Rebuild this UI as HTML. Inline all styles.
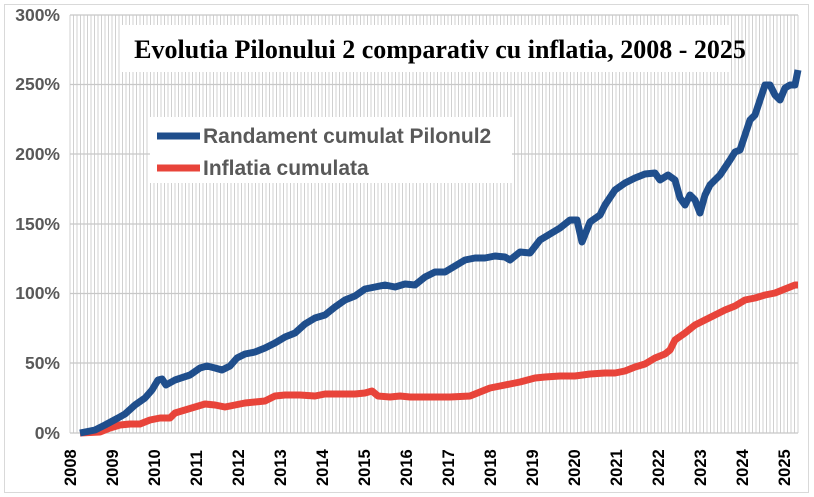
<!DOCTYPE html>
<html><head><meta charset="utf-8"><style>body{margin:0;background:#fff}svg{display:block}</style></head><body>
<svg width="814" height="497" xmlns="http://www.w3.org/2000/svg" font-family="Liberation Sans, sans-serif">
<rect x="4.5" y="4.5" width="804" height="488" fill="#fff" stroke="#d9d9d9"/>
<g stroke="#d0d0d0" stroke-width="1" fill="none">
<path d="M70 15V433M73.5 15V433M77 15V433M80.5 15V433M84 15V433M87.5 15V433M91 15V433M94.5 15V433M98 15V433M101.5 15V433M105 15V433M108.5 15V433M112 15V433M115.5 15V433M119 15V433M122.5 15V433M126 15V433M129.5 15V433M133 15V433M136.5 15V433M140 15V433M143.5 15V433M147 15V433M150.5 15V433M154 15V433M157.5 15V433M161 15V433M164.5 15V433M168 15V433M171.5 15V433M175 15V433M178.5 15V433M182 15V433M185.5 15V433M189 15V433M192.5 15V433M196 15V433M199.5 15V433M203 15V433M206.5 15V433M210 15V433M213.5 15V433M217 15V433M220.5 15V433M224 15V433M227.5 15V433M231 15V433M234.5 15V433M238 15V433M241.5 15V433M245 15V433M248.5 15V433M252 15V433M255.5 15V433M259 15V433M262.5 15V433M266 15V433M269.5 15V433M273 15V433M276.5 15V433M280 15V433M283.5 15V433M287 15V433M290.5 15V433M294 15V433M297.5 15V433M301 15V433M304.5 15V433M308 15V433M311.5 15V433M315 15V433M318.5 15V433M322 15V433M325.5 15V433M329 15V433M332.5 15V433M336 15V433M339.5 15V433M343 15V433M346.5 15V433M350 15V433M353.5 15V433M357 15V433M360.5 15V433M364 15V433M367.5 15V433M371 15V433M374.5 15V433M378 15V433M381.5 15V433M385 15V433M388.5 15V433M392 15V433M395.5 15V433M399 15V433M402.5 15V433M406 15V433M409.5 15V433M413 15V433M416.5 15V433M420 15V433M423.5 15V433M427 15V433M430.5 15V433M434 15V433M437.5 15V433M441 15V433M444.5 15V433M448 15V433M451.5 15V433M455 15V433M458.5 15V433M462 15V433M465.5 15V433M469 15V433M472.5 15V433M476 15V433M479.5 15V433M483 15V433M486.5 15V433M490 15V433M493.5 15V433M497 15V433M500.5 15V433M504 15V433M507.5 15V433M511 15V433M514.5 15V433M518 15V433M521.5 15V433M525 15V433M528.5 15V433M532 15V433M535.5 15V433M539 15V433M542.5 15V433M546 15V433M549.5 15V433M553 15V433M556.5 15V433M560 15V433M563.5 15V433M567 15V433M570.5 15V433M574 15V433M577.5 15V433M581 15V433M584.5 15V433M588 15V433M591.5 15V433M595 15V433M598.5 15V433M602 15V433M605.5 15V433M609 15V433M612.5 15V433M616 15V433M619.5 15V433M623 15V433M626.5 15V433M630 15V433M633.5 15V433M637 15V433M640.5 15V433M644 15V433M647.5 15V433M651 15V433M654.5 15V433M658 15V433M661.5 15V433M665 15V433M668.5 15V433M672 15V433M675.5 15V433M679 15V433M682.5 15V433M686 15V433M689.5 15V433M693 15V433M696.5 15V433M700 15V433M703.5 15V433M707 15V433M710.5 15V433M714 15V433M717.5 15V433M721 15V433M724.5 15V433M728 15V433M731.5 15V433M735 15V433M738.5 15V433M742 15V433M745.5 15V433M749 15V433M752.5 15V433M756 15V433M759.5 15V433M763 15V433M766.5 15V433M770 15V433M773.5 15V433M777 15V433M780.5 15V433M784 15V433M787.5 15V433M791 15V433M794.5 15V433M798 15V433"/>
</g>
<g stroke="#c8c8c8" stroke-width="1.2">
<line x1="70" x2="798" y1="15" y2="15"/><line x1="70" x2="798" y1="84.5" y2="84.5"/><line x1="70" x2="798" y1="154" y2="154"/><line x1="70" x2="798" y1="224" y2="224"/><line x1="70" x2="798" y1="293.5" y2="293.5"/><line x1="70" x2="798" y1="363" y2="363"/><line x1="70" x2="798" y1="433" y2="433"/>
</g>
<rect x="120" y="25" width="610" height="47" fill="#fff"/>
<text x="440" y="58" text-anchor="middle" font-family="Liberation Serif, serif" font-weight="bold" font-size="26">Evolutia Pilonului 2 comparativ cu inflatia, 2008 - 2025</text>
<rect x="150" y="117" width="362" height="66" fill="#fff"/>
<line x1="157" x2="200" y1="136" y2="136" stroke="#1f4e8c" stroke-width="7"/>
<text x="203" y="143" font-weight="bold" font-size="21" fill="#595959">Randament cumulat Pilonul2</text>
<line x1="157" x2="200" y1="168" y2="168" stroke="#e8443a" stroke-width="7"/>
<text x="203" y="175" font-weight="bold" font-size="21" fill="#595959">Inflatia cumulata</text>
<g font-weight="bold" font-size="17.5" fill="#595959" text-anchor="end">
<text x="60" y="21">300%</text><text x="60" y="90">250%</text><text x="60" y="160">200%</text><text x="60" y="230">150%</text><text x="60" y="299">100%</text><text x="60" y="369">50%</text><text x="60" y="439">0%</text>
</g>
<g font-weight="bold" font-size="16.5" fill="#000">
<text transform="translate(76,486) rotate(-90)">2008</text><text transform="translate(118,486) rotate(-90)">2009</text><text transform="translate(160,486) rotate(-90)">2010</text><text transform="translate(202,486) rotate(-90)">2011</text><text transform="translate(244,486) rotate(-90)">2012</text><text transform="translate(286,486) rotate(-90)">2013</text><text transform="translate(328,486) rotate(-90)">2014</text><text transform="translate(370,486) rotate(-90)">2015</text><text transform="translate(412,486) rotate(-90)">2016</text><text transform="translate(454,486) rotate(-90)">2017</text><text transform="translate(496,486) rotate(-90)">2018</text><text transform="translate(538,486) rotate(-90)">2019</text><text transform="translate(580,486) rotate(-90)">2020</text><text transform="translate(622,486) rotate(-90)">2021</text><text transform="translate(664,486) rotate(-90)">2022</text><text transform="translate(706,486) rotate(-90)">2023</text><text transform="translate(748,486) rotate(-90)">2024</text><text transform="translate(790,486) rotate(-90)">2025</text>
</g>
<polyline fill="none" stroke="#e8443a" stroke-width="7" stroke-linejoin="round" points="80,433 100,432 110,428 120,425 130,424 140,424 150,420 160,418 170,418 175,413 185,410 195,407 205,404 215,405 225,407 235,405 245,403 255,402 265,401 275,396 285,395 300,395 315,396 325,394 340,394 355,394 365,393 372,391 378,396 390,397 400,396 410,397 430,397 450,397 470,396 480,392 490,388 500,386 510,384 520,382 535,378 545,377 560,376 575,376 590,374 605,373 615,373 625,371 635,367 645,364 655,358 665,354 670,350 675,340 685,333 695,325 705,320 715,315 725,310 735,306 745,300 755,298 765,295 775,293 785,289 795,285 798,285"/>
<polyline fill="none" stroke="#1f4e8c" stroke-width="7" stroke-linejoin="round" points="80,433 95,430 105,425 118,418 125,414 135,405 145,398 152,390 158,380 162,379 166,385 175,380 190,375 200,368 207,366 215,368 222,370 230,366 237,358 245,354 255,352 265,348 275,343 285,337 295,333 305,324 315,318 325,315 335,307 345,300 355,296 365,289 375,287 385,285 395,287 405,284 415,285 425,277 435,272 445,272 455,266 465,260 475,258 485,258 495,256 505,257 510,260 520,252 530,253 540,240 550,234 560,228 570,220 577,220 582,242 590,222 600,215 605,205 615,190 625,183 635,178 645,174 655,173 660,180 668,175 675,180 680,198 685,205 690,195 695,200 700,213 705,195 710,185 720,175 730,160 735,152 740,150 745,135 750,120 755,115 760,100 765,85 770,85 775,95 780,100 785,88 790,85 795,85 798,70"/>
</svg>
</body></html>
